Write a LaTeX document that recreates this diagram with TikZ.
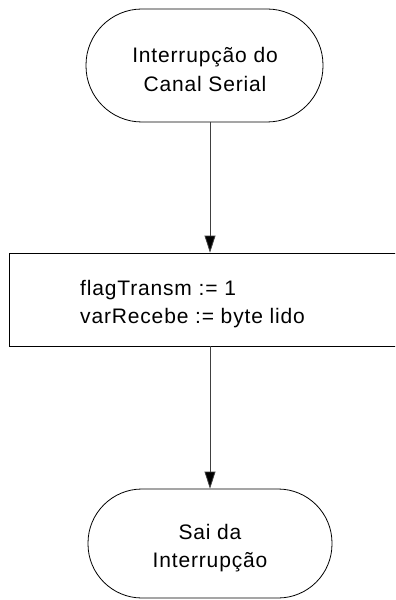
\documentclass[tikz,border=0pt]{standalone}
\usepackage{fontspec}
\setmainfont[LetterSpace=4]{Liberation Sans}
\usetikzlibrary{arrows.meta}
\tikzset{
  terminal/.style={draw=black, line width=0.8bp, rectangle, inner sep=0pt},
  procbox/.style={draw=black, line width=0.8bp, rectangle, inner sep=0pt},
  lbl/.style={anchor=base, inner sep=0pt, font=\fontsize{21bp}{28bp}\selectfont},
  flow/.style={draw=black!75, line width=0.8bp,
    -{Triangle[length=17bp, width=11bp, fill=black]}},
}
\begin{document}
\begin{tikzpicture}[x=1bp, y=-1bp]
  \useasboundingbox (0,0) rectangle (395,600);
  \clip (0,0) rectangle (395,600);
  \fill[white] (0,0) rectangle (395,600);

  % start terminal
  \node[terminal, minimum width=237bp, minimum height=113bp,
        rounded corners=56bp] (start) at (204.5,65.5) {};
  \node[lbl] (startA) at (205,63) {Interrupção do};
  \node[lbl] (startB) at (205,92) {Canal Serial};

  % process box (runs past the right edge)
  \node[procbox, minimum width=411bp, minimum height=93bp] (proc) at (214.5,299.5) {};
  \node[lbl, anchor=base west] (procA) at (80,295) {flagTransm := 1};
  \node[lbl, anchor=base west] (procB) at (80,323) {varRecebe := byte lido};

  % end terminal
  \node[terminal, minimum width=244bp, minimum height=109bp,
        rounded corners=54bp] (stop) at (210,543.5) {};
  \node[lbl] (stopA) at (210,539) {Sai da};
  \node[lbl] (stopB) at (210,567) {Interrupção};

  % connectors
  \draw[flow] (start.south -| stop.north) -- (proc.north -| stop.north);
  \draw[flow] (proc.south -| stop.north) -- (stop.north);
\end{tikzpicture}
\end{document}
